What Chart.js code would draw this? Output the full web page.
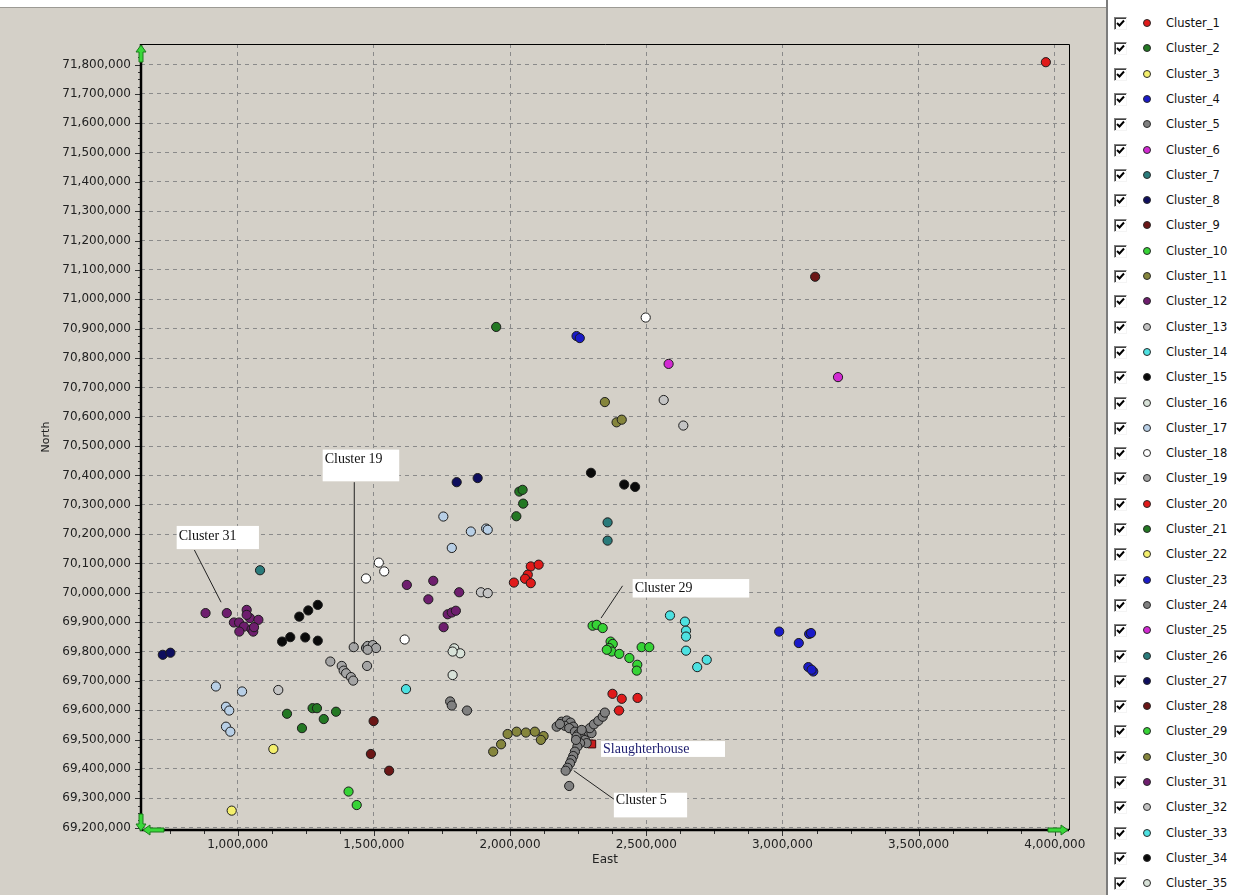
<!DOCTYPE html>
<html>
<head>
<meta charset="utf-8">
<title>Clusters</title>
<script src="https://cdn.jsdelivr.net/npm/chart.js@4.4.1/dist/chart.umd.min.js"></script>
<style>
    html, body { margin: 0; padding: 0; }
    body {
        width: 1259px; height: 895px; position: relative; overflow: hidden;
        background: #d4d0c8; font-family: "DejaVu Sans", Arial, sans-serif;
    }
    #topStrip { position: absolute; left: 0; top: 0; width: 1106px; height: 7px; background: #fff; border-bottom: 1px solid #9c9a94; }
    #plotWrap { position: absolute; left: 0; top: 0; width: 1100px; height: 895px; }
    #legendPanel {
        position: absolute; left: 1106px; top: 0; width: 153px; height: 895px;
        background: #fff; border-left: 2px solid #7c7c7c; box-sizing: border-box;
    }
    .legend-row { position: absolute; left: 0; width: 150px; height: 18px; }
    .legend-check {
        position: absolute; left: 6px; top: 3px; width: 11px; height: 11px;
        background: #fff; border: 1px solid; border-color: #808080 #f4f4f4 #f4f4f4 #808080;
        box-shadow: inset 1px 1px 0 #404040;
    }
    .legend-check svg { position: absolute; left: 1px; top: 1px; }
    .legend-dot {
        position: absolute; left: 35px; top: 5px; width: 6px; height: 6px;
        border-radius: 50%; border: 1px solid #2a2a2a;
    }
    .legend-text { position: absolute; left: 58px; top: 1px; font-size: 11.5px; color: #111; line-height: 16px; }
</style>
</head>
<body>
<div id="topStrip"></div>
<div id="plotWrap"><canvas id="clusterChart" width="1100" height="895"></canvas></div>
<div id="legendPanel"></div>

<script>
// Cluster points, [east, north]
const cluster_1 = [[3967000, 71808000], [2376000, 69656000], [2410000, 69639000], [2468000, 69642000], [2400000, 69599000]];
const cluster_2 = [[1949000, 70906000], [2034000, 70345000], [2046000, 70351000], [2048000, 70304000], [2023000, 70261000]];
const cluster_3 = [[978000, 69258000]];
const cluster_4 = [[2244000, 70875000], [2256000, 70868000]];
const cluster_5 = [
    [2171000, 69544000], [2189000, 69561000], [2208000, 69565000], [2222000, 69558000], [2232000, 69544000],
    [2201000, 69547000], [2217000, 69539000], [2238000, 69527000], [2250000, 69518000], [2266000, 69510000],
    [2275000, 69499000], [2287000, 69527000], [2299000, 69522000], [2293000, 69539000], [2308000, 69552000],
    [2324000, 69564000], [2340000, 69578000], [2348000, 69592000], [2281000, 69488000], [2257000, 69488000],
    [2247000, 69476000], [2238000, 69459000], [2232000, 69444000], [2226000, 69431000], [2220000, 69419000],
    [2211000, 69404000], [2204000, 69394000], [2217000, 69342000], [2183000, 69553000], [2244000, 69510000],
    [2263000, 69533000], [2242000, 69499000]
];
const cluster_6 = [[2582000, 70780000]];
const cluster_7 = [[2358000, 70240000], [2358000, 70178000]];
const cluster_8 = [[1804000, 70377000], [1881000, 70391000]];
const cluster_9 = [[3120000, 71077000]];
const cluster_10 = [[1407000, 69323000], [1437000, 69277000]];
const cluster_11 = [[2348000, 70650000], [2391000, 70581000], [2410000, 70590000]];
const cluster_12 = [[1621000, 70027000], [1718000, 70041000], [1813000, 70002000], [1700000, 69978000],
    [1771000, 69927000], [1786000, 69933000], [1801000, 69939000], [1756000, 69883000]];
const cluster_13 = [[2564000, 70657000], [2636000, 70570000]];
const cluster_14 = [[2587000, 69923000], [2642000, 69902000], [2646000, 69871000], [2646000, 69851000],
    [2646000, 69803000], [2722000, 69772000], [2687000, 69747000]];
const cluster_15 = [[2297000, 70409000], [2419000, 70369000], [2459000, 70361000]];
const cluster_16 = [[1795000, 69811000], [1817000, 69794000], [1789000, 69800000]];
const cluster_17 = [[1755000, 70260000], [1856000, 70209000], [1912000, 70219000], [1918000, 70215000],
    [1786000, 70153000], [920000, 69681000], [1016000, 69664000], [957000, 69612000], [969000, 69599000],
    [957000, 69544000], [973000, 69527000]];
const cluster_18 = [[2498000, 70938000], [1518000, 70103000], [1538000, 70073000], [1471000, 70049000], [1613000, 69841000]];
const cluster_19 = [[1426000, 69815000], [1471000, 69812000], [1477000, 69819000], [1496000, 69822000],
    [1508000, 69812000], [1477000, 69806000], [1475000, 69751000], [1340000, 69766000], [1382000, 69751000],
    [1389000, 69735000], [1398000, 69726000], [1416000, 69713000], [1424000, 69701000]];
const cluster_20 = [[2076000, 70090000], [2105000, 70096000], [2065000, 70062000], [2014000, 70035000],
    [2055000, 70048000], [2076000, 70033000]];
const cluster_21 = [[1181000, 69588000], [1275000, 69607000], [1291000, 69607000], [1316000, 69570000],
    [1361000, 69595000], [1236000, 69539000]];
const cluster_22 = [[1131000, 69468000]];
const cluster_23 = [[2988000, 69868000], [3060000, 69829000], [3098000, 69860000], [3105000, 69863000],
    [3095000, 69747000], [3113000, 69732000], [3107000, 69738000]];
const cluster_24 = [[1780000, 69630000], [1786000, 69616000], [1842000, 69599000]];
const cluster_25 = [[3204000, 70735000]];
const cluster_26 = [[1082000, 70077000]];
const cluster_27 = [[725000, 69789000], [753000, 69796000]];
const cluster_28 = [[1499000, 69563000], [1489000, 69451000], [1556000, 69394000]];
const cluster_29 = [[2303000, 69888000], [2318000, 69891000], [2340000, 69880000], [2369000, 69834000],
    [2377000, 69826000], [2364000, 69812000], [2373000, 69800000], [2401000, 69792000], [2438000, 69778000],
    [2467000, 69755000], [2465000, 69735000], [2483000, 69815000], [2511000, 69815000], [2355000, 69806000]];
const cluster_30 = [[1938000, 69459000], [1967000, 69484000], [1991000, 69519000], [2024000, 69527000],
    [2058000, 69524000], [2091000, 69527000], [2123000, 69512000], [2113000, 69499000]];
const cluster_31 = [[882000, 69931000], [960000, 69931000], [1033000, 69942000], [986000, 69899000],
    [1005000, 69899000], [1045000, 69914000], [1076000, 69908000], [1023000, 69885000], [1006000, 69868000],
    [1051000, 69876000], [1057000, 69868000], [1033000, 69925000], [1060000, 69883000]];
const cluster_32 = [[1149000, 69669000], [1893000, 70002000], [1918000, 69999000]];
const cluster_33 = [[1618000, 69672000]];
const cluster_34 = [[1226000, 69919000], [1259000, 69940000], [1294000, 69959000], [1163000, 69834000],
    [1193000, 69849000], [1248000, 69848000], [1294000, 69837000]];
const cluster_35 = [[1789000, 69720000]];

const slaughterhouse = [[2300000, 69485000]];

const clusterPoints = [
    cluster_1, cluster_2, cluster_3, cluster_4, cluster_5, cluster_6, cluster_7, cluster_8, cluster_9,
    cluster_10, cluster_11, cluster_12, cluster_13, cluster_14, cluster_15, cluster_16, cluster_17, cluster_18,
    cluster_19, cluster_20, cluster_21, cluster_22, cluster_23, cluster_24, cluster_25, cluster_26, cluster_27,
    cluster_28, cluster_29, cluster_30, cluster_31, cluster_32, cluster_33, cluster_34, cluster_35
];
const clusterNames = clusterPoints.map((_, i) => 'Cluster_' + (i + 1));

// colours repeat every 19 clusters
const palette = [
    '#e01a1a', '#237823', '#f4ef6c', '#1a1ac8', '#808080', '#d22ad2', '#2a7b7b', '#0e0e5e', '#6b1616',
    '#36d336', '#85853c', '#6e1e6e', '#c4c4c4', '#4de1e1', '#0a0a0a', '#d8e2d8', '#b8cfe6', '#ffffff', '#a4a4a4'
];

const eastTicks = [1000000, 1500000, 2000000, 2500000, 3000000, 3500000, 4000000];
const northTicks = [
    69200000, 69300000, 69400000, 69500000, 69600000, 69700000, 69800000, 69900000, 70000000,
    70100000, 70200000, 70300000, 70400000, 70500000, 70600000, 70700000, 70800000, 70900000,
    71000000, 71100000, 71200000, 71300000, 71400000, 71500000, 71600000, 71700000, 71800000
];

// callout boxes, in map units
const callouts = [
    { text: 'Cluster 19', box: [1312000, 70488000, 1593000, 70380000], dy: 3, line: [[1428000, 70377000], [1428000, 69826000]] },
    { text: 'Cluster 31', box: [776000, 70228000, 1078000, 70149000], dy: 3, line: [[841000, 70146000], [939000, 69968000]] },
    { text: 'Cluster 29', box: [2450000, 70047000, 2878000, 69984000], dy: 2, line: [[2413000, 70024000], [2334000, 69914000]] },
    { text: 'Slaughterhouse', box: [2334000, 69495000, 2789000, 69441000], dy: 1, color: '#1c1c6e' },
    { text: 'Cluster 5', box: [2381000, 69319000, 2650000, 69235000], dy: 1, line: [[2234000, 69394000], [2381000, 69297000]] }
];

function formatNumber(v) {
    return String(v).replace(/\B(?=(\d{3})+(?!\d))/g, ',');
}

function buildLegend() {
    const panel = document.getElementById('legendPanel');
    panel.innerHTML = clusterNames.map((name, i) => `
        <div class="legend-row" style="top:${14 + i * 25.3}px">
            <div class="legend-check"><svg width="9" height="9"><path d="M1 4 L3.5 6.5 L8 1.5" fill="none" stroke="#000" stroke-width="2"/></svg></div>
            <div class="legend-dot" style="background:${palette[i % palette.length]}"></div>
            <div class="legend-text">${name}</div>
        </div>
    `).join('');
}

function drawArrow(ctx, tipX, tipY, dir, len) {
    // dir: unit vector pointing to the tip
    const [dx, dy] = dir;
    const px = -dy, py = dx;
    const head = 7, half = 5, shaft = 2;
    const bx = tipX - dx * head, by = tipY - dy * head;
    const tx = tipX - dx * len, ty = tipY - dy * len;
    ctx.beginPath();
    ctx.moveTo(tipX, tipY);
    ctx.lineTo(bx + px * half, by + py * half);
    ctx.lineTo(bx + px * shaft, by + py * shaft);
    ctx.lineTo(tx + px * shaft, ty + py * shaft);
    ctx.lineTo(tx - px * shaft, ty - py * shaft);
    ctx.lineTo(bx - px * shaft, by - py * shaft);
    ctx.lineTo(bx - px * half, by - py * half);
    ctx.closePath();
    ctx.fillStyle = '#3ad83a';
    ctx.strokeStyle = '#1c7a1c';
    ctx.lineWidth = 1;
    ctx.fill();
    ctx.stroke();
}

const frameDecor = {
    id: 'frameDecor',
    beforeDatasetsDraw(chart) {
        const { ctx, chartArea: a, scales: { x, y } } = chart;
        ctx.save();
        ctx.strokeStyle = '#000';
        ctx.lineWidth = 1;
        ctx.beginPath();
        ctx.moveTo(a.left, a.top + 0.5);
        ctx.lineTo(a.right + 0.5, a.top + 0.5);
        ctx.lineTo(a.right + 0.5, a.bottom);
        ctx.stroke();

        // tick marks outside the axes
        ctx.strokeStyle = '#333';
        ctx.beginPath();
        for (let v = 750000; v <= 4000000; v += 125000) {
            const px = Math.round(x.getPixelForValue(v)) + 0.5;
            const major = v % 500000 === 0;
            ctx.moveTo(px, a.bottom);
            ctx.lineTo(px, a.bottom + (major ? 6 : 4));
        }
        for (let v = 69200000; v <= 71850000; v += 25000) {
            const py = Math.round(y.getPixelForValue(v)) + 0.5;
            const major = v % 100000 === 0;
            ctx.moveTo(a.left, py);
            ctx.lineTo(a.left - (major ? 6 : 3), py);
        }
        ctx.stroke();

        ctx.strokeStyle = '#000';
        ctx.lineWidth = 2.5;
        ctx.beginPath();
        ctx.moveTo(a.left, a.top);
        ctx.lineTo(a.left, a.bottom);
        ctx.lineTo(a.right, a.bottom);
        ctx.stroke();
        ctx.restore();
    },
    afterDatasetsDraw(chart) {
        const { ctx, chartArea: a, scales: { x, y } } = chart;
        ctx.save();
        drawArrow(ctx, a.left, a.top + 1, [0, -1], 17);
        drawArrow(ctx, a.left, a.bottom + 1, [0, 1], 17);
        drawArrow(ctx, a.left + 2, a.bottom, [-1, 0], 21);
        drawArrow(ctx, a.right - 1, a.bottom, [1, 0], 20);

        ctx.font = '14px "Liberation Serif", "Times New Roman", serif';
        ctx.textBaseline = 'top';
        callouts.forEach(c => {
            if (c.line) {
                ctx.strokeStyle = '#222';
                ctx.lineWidth = 1;
                ctx.beginPath();
                ctx.moveTo(x.getPixelForValue(c.line[0][0]), y.getPixelForValue(c.line[0][1]));
                ctx.lineTo(x.getPixelForValue(c.line[1][0]), y.getPixelForValue(c.line[1][1]));
                ctx.stroke();
            }
            const x0 = x.getPixelForValue(c.box[0]), y0 = y.getPixelForValue(c.box[1]);
            const x1 = x.getPixelForValue(c.box[2]), y1 = y.getPixelForValue(c.box[3]);
            ctx.fillStyle = '#fff';
            ctx.fillRect(x0, y0, x1 - x0, y1 - y0);
            ctx.fillStyle = c.color || '#111';
            ctx.fillText(c.text, x0 + 2, y0 + c.dy);
        });
        ctx.restore();
    }
};

const tickFont = { family: '"DejaVu Sans", Arial, sans-serif', size: 12 };

function createClusterChart() {
    const canvas = document.getElementById('clusterChart');

    const datasets = clusterPoints.map((pts, i) => ({
        label: clusterNames[i],
        data: pts.map(([e, n]) => ({ x: e, y: n })),
        backgroundColor: palette[i % palette.length],
        borderColor: '#1c1c1c',
        borderWidth: 1,
        pointRadius: 4.6,
        pointStyle: 'circle'
    }));
    datasets.push({
        label: 'Slaughterhouse',
        data: slaughterhouse.map(([e, n]) => ({ x: e, y: n })),
        backgroundColor: '#c81e1e',
        borderColor: '#3a0808',
        borderWidth: 1,
        pointRadius: 5.5,
        pointStyle: 'rect'
    });

    return new Chart(canvas, {
        type: 'scatter',
        data: { datasets },
        options: {
            responsive: false,
            animation: false,
            events: [],
            layout: { padding: { top: 44, right: 31, left: 0, bottom: 0 } },
            plugins: { legend: { display: false }, tooltip: { enabled: false } },
            scales: {
                x: {
                    type: 'linear',
                    min: 645000,
                    max: 4052000,
                    afterBuildTicks: s => { s.ticks = eastTicks.map(v => ({ value: v })); },
                    afterFit: s => { s.height = 65; },
                    grid: { color: '#8a8a8a', lineWidth: 1, drawTicks: false },
                    border: { display: false, dash: [4, 4] },
                    ticks: { padding: 8, color: '#222', font: tickFont, maxRotation: 0, autoSkip: false, callback: v => formatNumber(v) },
                    title: { display: true, text: 'East', color: '#222', font: tickFont, padding: { top: 0, bottom: 28 } }
                },
                y: {
                    type: 'linear',
                    min: 69192000,
                    max: 71870000,
                    afterBuildTicks: s => { s.ticks = northTicks.map(v => ({ value: v })); },
                    afterFit: s => { s.width = 141; },
                    grid: { color: '#8a8a8a', lineWidth: 1, drawTicks: false },
                    border: { display: false, dash: [4, 4] },
                    ticks: { padding: 10, color: '#222', font: tickFont, autoSkip: false, callback: v => formatNumber(v) },
                    title: { display: true, text: 'North', color: '#222', font: { family: tickFont.family, size: 11 }, padding: { top: 40, bottom: 0 } }
                }
            }
        },
        plugins: [frameDecor]
    });
}

buildLegend();
createClusterChart();
</script>
</body>
</html>
